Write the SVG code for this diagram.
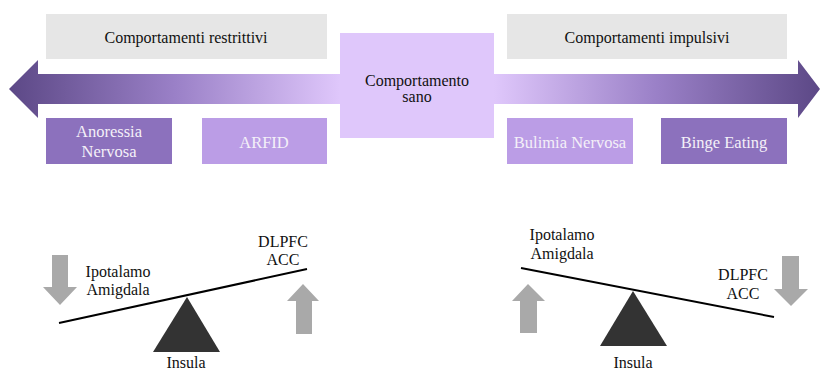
<svg xmlns="http://www.w3.org/2000/svg" width="820" height="371" viewBox="0 0 820 371">
<defs>
<linearGradient id="gl" x1="9" y1="0" x2="340" y2="0" gradientUnits="userSpaceOnUse">
<stop offset="0" stop-color="#5c4886"/>
<stop offset="0.5" stop-color="#9a80c7"/>
<stop offset="1" stop-color="#dfc7fb"/>
</linearGradient>
<linearGradient id="gr" x1="820" y1="0" x2="494" y2="0" gradientUnits="userSpaceOnUse">
<stop offset="0" stop-color="#5c4886"/>
<stop offset="0.5" stop-color="#9a80c7"/>
<stop offset="1" stop-color="#dfc7fb"/>
</linearGradient>
<style>
.t{font-size:16px;fill:#111}
.w{font-size:16.5px;fill:#f4f0f8}
.gray{fill:#e6e6e6}
.dark{fill:#8c71bd}
.light{fill:#bb9de6}
.ga{fill:#a9a9a9}
.lever{stroke:#000;stroke-width:2;fill:none}
.tri{fill:#333}
</style>
</defs>
<g id="connectors">
<path d="M340,74 H38 V60 L9,89 L38,118 V104 H340 Z" fill="url(#gl)"/>
<path d="M494,74 H798 V60 L820,89 L798,118 V104 H494 Z" fill="url(#gr)"/>
</g>
<g font-family="Liberation Serif, DejaVu Serif, Times New Roman, serif" text-anchor="middle">
<g id="restrittivi"><rect class="gray" x="46" y="14" width="281" height="45"/><text class="t" x="186" y="43">Comportamenti restrittivi</text></g>
<g id="impulsivi"><rect class="gray" x="507" y="14" width="280" height="45"/><text class="t" x="647" y="43">Comportamenti impulsivi</text></g>
<g id="sano"><rect x="340" y="33" width="154" height="105" fill="#dfc7fb"/><text class="t" x="417" y="86" font-size="16.5">Comportamento</text><text class="t" x="417" y="102" font-size="15.5">sano</text></g>
<g id="anoressia"><rect class="dark" x="46" y="118" width="126" height="46"/><text class="w" x="109" y="137">Anoressia</text><text class="w" x="109" y="157">Nervosa</text></g>
<g id="arfid"><rect class="light" x="202" y="118" width="125" height="46"/><text class="w" x="264" y="148">ARFID</text></g>
<g id="bulimia"><rect class="light" x="507" y="118" width="126" height="46"/><text class="w" x="570" y="148" font-size="15">Bulimia Nervosa</text></g>
<g id="binge"><rect class="dark" x="661" y="118" width="126" height="46"/><text class="w" x="724" y="148">Binge Eating</text></g>
<g id="balance-left">
<path class="ga" d="M52,255 H68 V287 H77 L60,305 L43,287 H52 Z"/>
<path class="ga" d="M296,334 H312 V301 H319 L303,284 L287,301 H296 Z"/>
<line class="lever" x1="59" y1="323" x2="307" y2="269"/>
<polygon class="tri" points="187,297 220,352 153,352"/>
<text class="t" x="118" y="277">Ipotalamo</text>
<text class="t" x="118" y="295">Amigdala</text>
<text class="t" x="283" y="247">DLPFC</text>
<text class="t" x="283" y="265">ACC</text>
<text class="t" x="186" y="368">Insula</text>
</g>
<g id="balance-right">
<path class="ga" d="M520,333 H537 V301 H545 L528,284 L512,301 H520 Z"/>
<path class="ga" d="M782,256 H799 V289 H808 L791,306 L774,289 H782 Z"/>
<line class="lever" x1="521" y1="268" x2="774" y2="317"/>
<polygon class="tri" points="633,291 667,346 600,346"/>
<text class="t" x="562" y="240">Ipotalamo</text>
<text class="t" x="562" y="259">Amigdala</text>
<text class="t" x="743" y="280">DLPFC</text>
<text class="t" x="743" y="299">ACC</text>
<text class="t" x="633" y="368">Insula</text>
</g>
</g>
</svg>
